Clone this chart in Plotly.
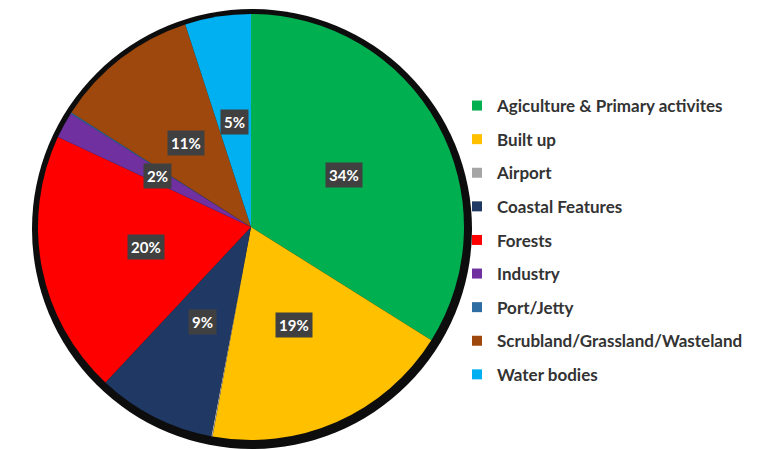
import math
import plotly.graph_objects as go

categories = ["Agiculture & Primary activites", "Built up", "Airport", "Coastal Features",
              "Forests", "Industry", "Port/Jetty", "Scrubland/Grassland/Wasteland", "Water bodies"]
values = [34, 19, 0.1, 9, 20, 2, 0.1, 11, 5]
colors = ["#00B050", "#FFC000", "#A5A5A5", "#203864", "#FF0000",
          "#7030A0", "#2E6DA4", "#9E480E", "#00B0F0"]

W, H = 769, 450
CX, CY, R = 251, 227, 213          # pie centre / radius in px
SCX, SCY, SR = 252, 229, 220       # black rim behind

def dom(cx, cy, r):
    return dict(x=[(cx - r) / W, (cx + r) / W], y=[(H - cy - r) / H, (H - cy + r) / H])

fig = go.Figure()
fig.add_trace(go.Pie(values=[1], marker=dict(colors=["#0d0d0d"], line=dict(width=0)),
                     domain=dom(SCX, SCY, SR), textinfo="none", hoverinfo="skip",
                     showlegend=False, sort=False))
fig.add_trace(go.Pie(labels=categories, values=values, marker=dict(colors=colors, line=dict(width=0)),
                     domain=dom(CX, CY, R), textinfo="none", sort=False, direction="clockwise",
                     rotation=0, showlegend=False))

# percentage labels in dark boxes
total = sum(values)
cum = 0
for v in values:
    mid = (cum + v / 2) / total * 2 * math.pi
    cum += v
    if v < 1:
        continue
    r = 0.5 * R
    px = CX + r * math.sin(mid)
    py = CY - r * math.cos(mid)
    fig.add_annotation(x=px / W, y=(H - py) / H, xref="paper", yref="paper",
                       xanchor="center", yanchor="middle",
                       text=f"{v / total * 100:.0f}%", showarrow=False,
                       bgcolor="#404040", borderpad=3,
                       font=dict(family="Lato", size=15, color="white", weight="bold"))

# legend entries
for name, c in zip(categories, colors):
    fig.add_trace(go.Scatter(x=[None], y=[None], mode="markers", name=name, legendgroup=name,
                             marker=dict(symbol="square", size=10, color=c)))

fig.update_layout(
    width=W, height=H, margin=dict(l=0, r=0, t=0, b=0),
    paper_bgcolor="white", plot_bgcolor="white",
    xaxis=dict(visible=False), yaxis=dict(visible=False),
    legend=dict(x=457 / W, y=(H - 88) / H, xanchor="left", yanchor="top",
                tracegroupgap=8.5, bgcolor="rgba(0,0,0,0)",
                font=dict(family="Lato", size=17, color="#333333", weight="bold")),
)
fig.write_html("out.html")
